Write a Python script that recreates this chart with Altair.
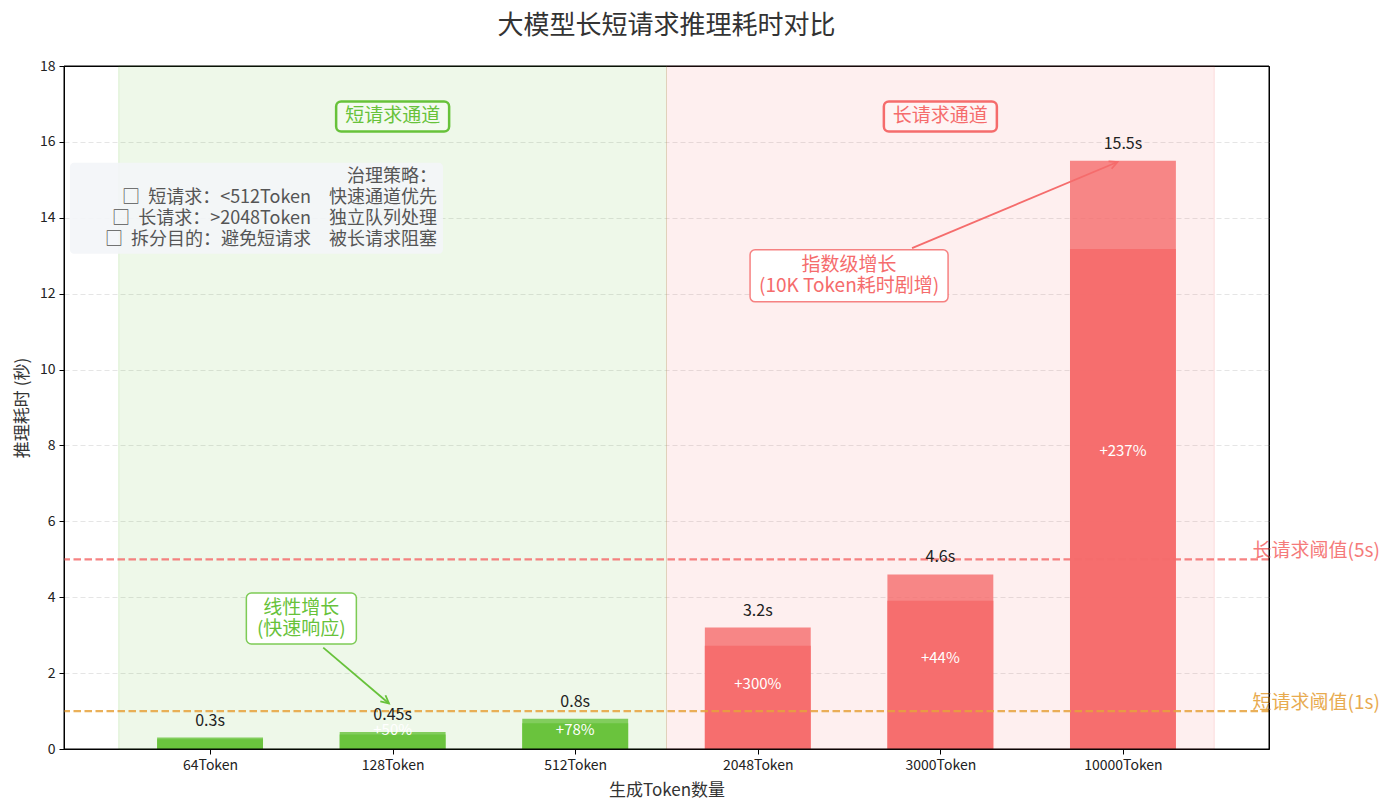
import math
import altair as alt
import pandas as pd

# ---- data ----------------------------------------------------------------
categories = ["64Token", "128Token", "512Token", "2048Token", "3000Token", "10000Token"]
latency = [0.3, 0.45, 0.8, 3.2, 4.6, 15.5]          # seconds
growth = ["", "+50%", "+78%", "+300%", "+44%", "+237%"]
groups = ["short", "short", "short", "long", "long", "long"]
core_share = 0.85                                   # darker inner part of each bar

short_threshold = 1
long_threshold = 5
short_threshold_label = "短请求阈值(1s)"
long_threshold_label = "长请求阈值(5s)"

channel_names = ["短请求通道", "长请求通道"]
strategy_lines = [
    "治理策略：",
    "□\u00a0\u00a0短请求：<512Token　快速通道优先",
    "□\u00a0\u00a0长请求：>2048Token　独立队列处理",
    "□\u00a0\u00a0拆分目的：避免短请求　被长请求阻塞",
]
short_note = ["线性增长", "(快速响应)"]
long_note = ["指数级增长", "(10K Token耗时剧增)"]

# ---- styling ---------------------------------------------------------------
GREEN = "#67c23a"
RED = "#f56c6c"
ORANGE = "#e6a23c"
FONT = "Noto Sans CJK SC"

W, H = 1205, 683
X_DOM = [-0.8, 5.8]
Y_DOM = [0, 18]
PX_X = W / (X_DOM[1] - X_DOM[0])   # pixels per category step
PX_Y = H / (Y_DOM[1] - Y_DOM[0])   # pixels per second

LABEL_EXPR = "[" + ",".join(f"'{c}'" for c in categories) + "][datum.value]"
EDGE_TEST = f"datum.value == {Y_DOM[0]} || datum.value == {Y_DOM[1]}"


def xq(field):
    return alt.X(
        f"{field}:Q",
        scale=alt.Scale(domain=X_DOM, nice=False, zero=False),
        axis=alt.Axis(values=list(range(len(categories))), labelExpr=LABEL_EXPR,
                      title="生成Token数量", grid=False),
    )


def yq(field):
    return alt.Y(
        f"{field}:Q",
        scale=alt.Scale(domain=Y_DOM, nice=False, zero=False),
        axis=alt.Axis(values=list(range(0, 19, 2)), title="推理耗时 (秒)", grid=True,
                      gridOpacity=alt.condition(EDGE_TEST, alt.value(0), alt.value(0.8))),
    )


def box(cx, cy, wpx, hpx):
    """Rectangle centred on a data point, sized in pixels."""
    return dict(x0=cx - wpx / 2 / PX_X, x1=cx + wpx / 2 / PX_X,
                y0=cy - hpx / 2 / PX_Y, y1=cy + hpx / 2 / PX_Y)


def lines_at(cx, cy, texts, step_px):
    n = len(texts)
    rows = []
    for i, t in enumerate(texts):
        off = (i - (n - 1) / 2) * step_px
        rows.append(dict(x=cx, y=cy - off / PX_Y, t=t))
    return pd.DataFrame(rows)


color_scale = alt.Scale(domain=["short", "long"], range=[GREEN, RED])

# ---- channel background spans --------------------------------------------
spans = pd.DataFrame([
    dict(x0=-0.5, x1=2.5, y0=0, y1=18, g="short"),
    dict(x0=2.5, x1=5.5, y0=0, y1=18, g="long"),
])
span_layer = alt.Chart(spans).mark_rect(fillOpacity=0.11, strokeOpacity=0.18, strokeWidth=1).encode(
    x=xq("x0"), x2="x1", y=yq("y0"), y2="y1",
    fill=alt.Fill("g:N", scale=color_scale, legend=None),
    stroke=alt.Stroke("g:N", scale=color_scale, legend=None),
)

# ---- bars -------------------------------------------------------------------
half = 0.29
bars = pd.DataFrame({
    "cat": categories,
    "v": latency,
    "g": groups,
    "growth": growth,
})
bars["i"] = range(len(categories))
bars["x0"] = bars["i"] - half
bars["x1"] = bars["i"] + half
bars["zero"] = 0
bars["core"] = bars["v"] * core_share
bars["label"] = bars["v"].map(lambda v: f"{v:g}s")
bars["mid"] = bars["v"].map(lambda v: max(v / 2, 0.4))

outer = alt.Chart(bars).mark_rect(fillOpacity=0.8).encode(
    x=xq("x0"), x2="x1", y=yq("v"), y2="zero",
    fill=alt.Fill("g:N", scale=color_scale, legend=None),
)
inner = alt.Chart(bars).mark_rect(fillOpacity=0.9).encode(
    x=xq("x0"), x2="x1", y=yq("core"), y2="zero",
    fill=alt.Fill("g:N", scale=color_scale, legend=None),
)
value_text = alt.Chart(bars).mark_text(font=FONT, fontSize=16, color="#222", dy=-17).encode(
    x=xq("i"), y=yq("v"), text="label:N",
)
growth_text = alt.Chart(bars[bars["growth"] != ""]).mark_text(
    font=FONT, fontSize=15, color="white", dy=-4
).encode(x=xq("i"), y=yq("mid"), text="growth:N")

# ---- threshold lines --------------------------------------------------------
thr_layers = []
for yv, label, col in [(short_threshold, short_threshold_label, ORANGE),
                       (long_threshold, long_threshold_label, RED)]:
    td = pd.DataFrame([dict(y=yv, t=label, x=5.71)])
    thr_layers.append(
        alt.Chart(td).mark_rule(strokeDash=[7.5, 3.5], strokeWidth=2.2, opacity=0.85, color=col)
        .encode(y=yq("y"))
    )
    thr_layers.append(
        alt.Chart(td).mark_text(font=FONT, fontSize=19, align="left", dy=-8, opacity=0.9, color=col)
        .encode(x=xq("x"), y=yq("y"), text="t:N")
    )

# ---- channel name badges -----------------------------------------------------
chan_layers = []
for (cx, cy), name, col in zip([(1.0, 16.67), (4.0, 16.67)], channel_names, [GREEN, RED]):
    cb = pd.DataFrame([box(cx, cy, 113, 30)])
    chan_layers.append(
        alt.Chart(cb).mark_rect(cornerRadius=5, fill="white", fillOpacity=0.3,
                                stroke=col, strokeWidth=2.5)
        .encode(x=xq("x0"), x2="x1", y=yq("y0"), y2="y1")
    )
    ct = pd.DataFrame([dict(x=cx, y=cy, t=name)])
    chan_layers.append(
        alt.Chart(ct).mark_text(font=FONT, fontSize=19, color=col)
        .encode(x=xq("x"), y=yq("y"), text="t:N")
    )

# ---- strategy panel ------------------------------------------------------------
strat_center = (0.254, 14.25)
strat_box = pd.DataFrame([box(strat_center[0], strat_center[1], 373, 91)])
strat_box_layer = alt.Chart(strat_box).mark_rect(cornerRadius=4, fill="#f3f5f8", opacity=0.9).encode(
    x=xq("x0"), x2="x1", y=yq("y0"), y2="y1",
)
strat_text = lines_at(1.243, strat_center[1], strategy_lines, 21)
strat_text_layer = alt.Chart(strat_text).mark_text(
    font=FONT, fontSize=18, align="right", color="#555"
).encode(x=xq("x"), y=yq("y"), text="t:N")

# ---- growth annotations with arrows -------------------------------------------
notes = [
    dict(cx=0.5, cy=3.44, w=110, h=51, lines=short_note, color=GREEN,
         sx=0.62, sy=2.67, tx=0.98, ty=1.2),
    dict(cx=3.5, cy=12.47, w=198, h=52, lines=long_note, color=RED,
         sx=3.845, sy=13.2, tx=4.97, ty=15.47),
]
HEAD = "M-0.5,1L0,0L0.5,1"
note_layers = []
for n in notes:
    nb = pd.DataFrame([box(n["cx"], n["cy"], n["w"], n["h"])])
    note_layers.append(
        alt.Chart(nb).mark_rect(cornerRadius=5, fill="white", stroke=n["color"],
                                strokeWidth=1.5, strokeOpacity=0.85).encode(
            x=xq("x0"), x2="x1", y=yq("y0"), y2="y1")
    )
    nt = lines_at(n["cx"], n["cy"], n["lines"], 21)
    note_layers.append(
        alt.Chart(nt).mark_text(font=FONT, fontSize=19, color=n["color"]).encode(
            x=xq("x"), y=yq("y"), text="t:N")
    )
    dxp = (n["tx"] - n["sx"]) * PX_X
    dyp = -(n["ty"] - n["sy"]) * PX_Y
    ang = math.degrees(math.atan2(dxp, -dyp)) % 360
    arrow = pd.DataFrame([dict(x=n["sx"], y=n["sy"], x2=n["tx"], y2=n["ty"], ang=ang)])
    note_layers.append(
        alt.Chart(arrow).mark_rule(strokeWidth=1.8, color=n["color"]).encode(
            x=xq("x"), y=yq("y"), x2="x2", y2="y2")
    )
    note_layers.append(
        alt.Chart(arrow).mark_point(shape=HEAD, filled=False, size=256, strokeWidth=1.8,
                                    color=n["color"], opacity=1).encode(
            x=xq("x2"), y=yq("y2"), angle=alt.Angle("ang:Q", scale=None))
    )

# ---- plot frame drawn above the grid --------------------------------------------
frame = pd.DataFrame([dict(x0=X_DOM[0], x1=X_DOM[1], y0=Y_DOM[0], y1=Y_DOM[1])])
frame_layer = alt.Chart(frame).mark_rect(fillOpacity=0, stroke="black", strokeWidth=1).encode(
    x=xq("x0"), x2="x1", y=yq("y0"), y2="y1",
)

chart = alt.layer(
    span_layer,
    outer, inner,
    *thr_layers,
    value_text, growth_text,
    *chan_layers,
    strat_box_layer, strat_text_layer,
    *note_layers,
    frame_layer,
).properties(
    width=W,
    height=H,
    autosize=alt.AutoSizeParams(type="none"),
    padding={"left": 64, "top": 66, "right": 131, "bottom": 63},
    title=alt.TitleParams(
        "大模型长短请求推理耗时对比", font=FONT, fontSize=26, fontWeight="normal",
        color="#333", anchor="middle", offset=20,
    ),
    background="white",
).configure_view(
    stroke="black", strokeWidth=1,
).configure_axis(
    labelFont=FONT, labelFontSize=14, labelColor="#222",
    titleFont=FONT, titleFontSize=17, titleFontWeight="normal", titleColor="#333",
    domainColor="black", domainWidth=1, tickColor="black", tickSize=5,
    gridColor="#d6d6d6", gridDash=[5, 3], gridWidth=0.8,
    labelPadding=4,
).configure_axisX(titlePadding=10).configure_axisY(titlePadding=8)

chart.save("out.html", embed_options={"renderer": "svg", "actions": False})
